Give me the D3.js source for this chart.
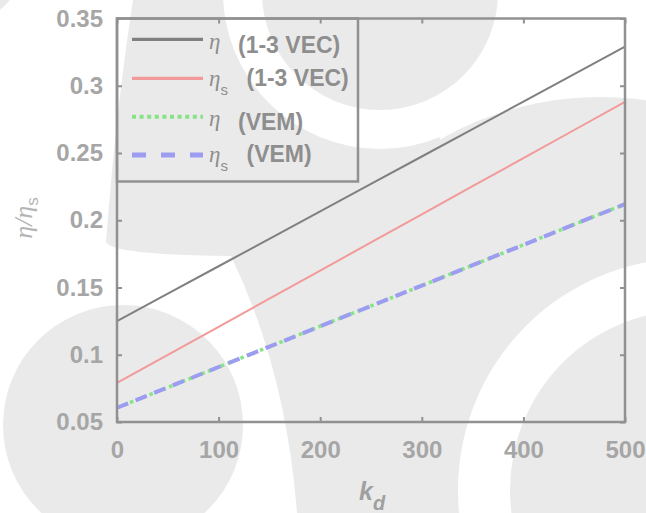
<!DOCTYPE html>
<html><head><meta charset="utf-8">
<script src="https://cdn.jsdelivr.net/npm/d3@7"></script>
<style>html,body{margin:0;padding:0;background:#fff;} svg{display:block;}</style>
</head><body>
<svg id="chart" width="646" height="513"></svg>
<script>
// ---------------- data ----------------
const kd = [0, 50, 100, 150, 200, 250, 300, 350, 400, 450, 500];
const etaVEC  = [0.125, 0.1454, 0.1658, 0.1862, 0.2066, 0.2270, 0.2474, 0.2678, 0.2882, 0.3086, 0.3290];
const etaSVEC = [0.079, 0.0999, 0.1208, 0.1417, 0.1626, 0.1835, 0.2044, 0.2253, 0.2462, 0.2671, 0.2880];
const etaVEM  = [0.0606, 0.0757, 0.0909, 0.1060, 0.1212, 0.1363, 0.1514, 0.1666, 0.1817, 0.1969, 0.2120];
const etaSVEM = [0.0606, 0.0757, 0.0909, 0.1060, 0.1212, 0.1363, 0.1514, 0.1666, 0.1817, 0.1969, 0.2120];
const xTicks = [0, 100, 200, 300, 400, 500];
const xTickLabels = ["0", "100", "200", "300", "400", "500"];
const yTicks = [0.05, 0.1, 0.15, 0.2, 0.25, 0.3, 0.35];
const yTickLabels = ["0.05", "0.1", "0.15", "0.2", "0.25", "0.3", "0.35"];
const legendBase = ["η", "η", "η", "η"];
const legendSub  = ["", "s", "", "s"];
const legendTag  = ["(1-3 VEC)", "(1-3 VEC)", "(VEM)", "(VEM)"];
const xLabel = "k", xLabelSub = "d";

// ---------------- setup ----------------
const svg = d3.select("#chart");
const W = 646, H = 513;
const L = 117, R = 625, T = 18.5, B = 422;
const x = d3.scaleLinear().domain([0, 500]).range([L, R]);
const y = d3.scaleLinear().domain([0.05, 0.35]).range([B, T]);

const GRAY = "#eaeaea", WHITE = "#ffffff";
const axisCol = "#919191", tickTxt = "#a6a6a6", legTxt = "#8e8e8e";
const sans = "'Liberation Sans', Arial, Helvetica, sans-serif";
const serif = "'Liberation Serif', 'Times New Roman', serif";

// ---------------- watermark background ----------------
const bg = svg.append("g");
bg.append("rect").attr("width", W).attr("height", H).attr("fill", GRAY);
// top-centre disc with white ring, and white top-right region
bg.append("circle").attr("cx", 380).attr("cy", -8).attr("r", 157).attr("fill", WHITE);
bg.append("rect").attr("x", 440).attr("y", 0).attr("width", 206).attr("height", 150).attr("fill", WHITE);
bg.append("circle").attr("cx", 600).attr("cy", 420).attr("r", 323).attr("fill", GRAY);
bg.append("circle").attr("cx", 380).attr("cy", -8).attr("r", 118).attr("fill", GRAY);
// left white region and crescent around lower-left disc
bg.append("path").attr("fill", WHITE)
  .attr("d", "M0,0 L133,0 Q116,110 106,242 Q112,255 231,256 Q286,370 297,513 L0,513 Z");
bg.append("circle").attr("cx", 123).attr("cy", 425).attr("r", 120).attr("fill", GRAY);
bg.append("circle").attr("cx", -50).attr("cy", -50).attr("r", 78).attr("fill", GRAY);
// lower-right disc with white ring
bg.append("circle").attr("cx", 690).attr("cy", 490).attr("r", 232).attr("fill", WHITE);
bg.append("circle").attr("cx", 690).attr("cy", 490).attr("r", 180).attr("fill", GRAY);

// ---------------- axes ----------------
function styleAxis(g, showText) {
  g.select(".domain").remove();
  g.selectAll(".tick line").attr("stroke", axisCol).attr("stroke-width", 2);
  g.selectAll(".tick text")
    .attr("fill", tickTxt).attr("font-family", sans)
    .attr("font-weight", "bold").attr("font-size", 24);
  if (!showText) g.selectAll(".tick text").remove();
}
svg.append("g").attr("transform", `translate(0,${B})`)
  .call(d3.axisBottom(x).tickValues(xTicks).tickFormat((d, i) => xTickLabels[i])
    .tickSizeInner(-5).tickSizeOuter(0).tickPadding(19))
  .call(g => styleAxis(g, true));
svg.append("g").attr("transform", `translate(0,${T})`)
  .call(d3.axisTop(x).tickValues(xTicks).tickSizeInner(-5).tickSizeOuter(0))
  .call(g => styleAxis(g, false));
svg.append("g").attr("transform", `translate(${L},0)`)
  .call(d3.axisLeft(y).tickValues(yTicks).tickFormat((d, i) => yTickLabels[i])
    .tickSizeInner(-5).tickSizeOuter(0).tickPadding(14))
  .call(g => styleAxis(g, true));
svg.append("g").attr("transform", `translate(${R},0)`)
  .call(d3.axisRight(y).tickValues(yTicks).tickSizeInner(-5).tickSizeOuter(0))
  .call(g => styleAxis(g, false));

// ---------------- series ----------------
const series = [
  { vals: etaVEC,  color: "#808080", width: 2,   dash: null },
  { vals: etaSVEC, color: "#f29a9a", width: 2,   dash: null },
  { vals: etaVEM,  color: "#86e486", width: 3.5, dash: "3.5,3.5" },
  { vals: etaSVEM, color: "#9c9cf0", width: 4,   dash: "12,8" }
];
const line = d3.line().x((d, i) => x(kd[i])).y(d => y(d));
series.forEach(s => {
  svg.append("path").datum(s.vals).attr("d", line)
    .attr("fill", "none").attr("stroke", s.color).attr("stroke-width", s.width)
    .attr("stroke-dasharray", s.dash);
});

// plot box
svg.append("rect").attr("x", L).attr("y", T).attr("width", R - L).attr("height", B - T)
  .attr("fill", "none").attr("stroke", axisCol).attr("stroke-width", 2.5);

// ---------------- legend ----------------
const lg = svg.append("g");
lg.append("rect").attr("x", L).attr("y", T).attr("width", 241).attr("height", 163)
  .attr("fill", "none").attr("stroke", axisCol).attr("stroke-width", 2.5);
const legW = [3.2, 3.2, 4, 5];
const legDash = [null, null, "4,3.6", "14,15"];
const legY = [39.3, 78.3, 116.7, 155];
series.forEach((s, i) => {
  const ly = legY[i];
  lg.append("line").attr("x1", 132).attr("x2", 203).attr("y1", ly).attr("y2", ly)
    .attr("stroke", s.color).attr("stroke-width", legW[i]).attr("stroke-dasharray", legDash[i]);
  const hasSub = legendSub[i] !== "";
  const base = ly + (hasSub ? 7.4 : 13.2);
  const t = lg.append("text").attr("y", base).attr("fill", legTxt);
  t.append("tspan").attr("x", 209).attr("font-family", serif).attr("font-style", "italic")
    .attr("font-size", 23).attr("dy", hasSub ? 0 : -4).text(legendBase[i]);
  if (hasSub) {
    t.append("tspan").attr("font-family", sans).attr("font-size", 15).attr("dy", 9).text(legendSub[i]);
  }
  lg.append("text").attr("x", hasSub ? 246.5 : 238).attr("y", base)
    .attr("fill", legTxt).attr("font-family", sans).attr("font-weight", "bold")
    .attr("font-size", 23).text(legendTag[i]);
});

// ---------------- axis titles ----------------
const yl = svg.append("text").attr("transform", "translate(32,218) rotate(-90)")
  .attr("text-anchor", "middle").attr("fill", "#b5b5b5");
yl.append("tspan").attr("font-family", serif).attr("font-style", "italic").attr("font-size", 26).text("η/η");
yl.append("tspan").attr("font-family", sans).attr("font-size", 17).attr("dy", 6).text("s");

const xl = svg.append("text").attr("x", 359).attr("y", 500).attr("fill", "#a0a0a0")
  .attr("font-family", sans).attr("font-weight", "bold").attr("font-style", "italic");
xl.append("tspan").attr("font-size", 25).text(xLabel);
xl.append("tspan").attr("font-size", 20).attr("dy", 10).text(xLabelSub);
</script>
</body></html>
